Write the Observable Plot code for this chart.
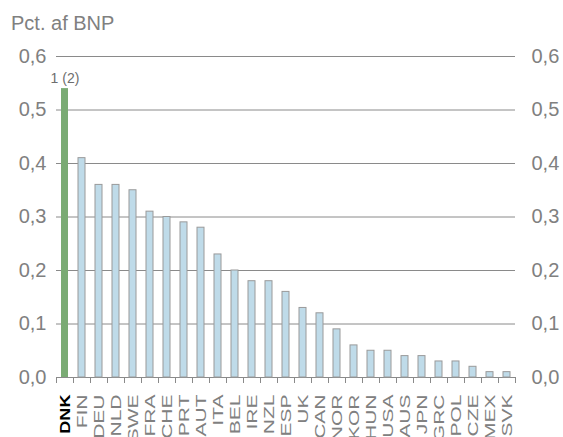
<!DOCTYPE html>
<html><head><meta charset="utf-8">
<script src="https://cdn.jsdelivr.net/npm/d3@7"></script>
<script src="https://cdn.jsdelivr.net/npm/@observablehq/plot@0.6"></script>
<style>
body{margin:0;background:#fff;font-family:"Liberation Sans",Arial,sans-serif}
#wrap{position:relative;width:563px;height:437px}
#title{position:absolute;left:11px;top:13px;font-size:20px;line-height:20px;color:#808080}
#chart{position:absolute;left:0;top:0}
</style>
</head><body>
<div id="wrap"><div id="chart"></div><div id="title">Pct. af BNP</div></div>
<script>
const countries = ["DNK","FIN","DEU","NLD","SWE","FRA","CHE","PRT","AUT","ITA","BEL","IRE","NZL","ESP","UK","CAN","NOR","KOR","HUN","USA","AUS","JPN","GRC","POL","CZE","MEX","SVK"];
const values = [0.54,0.41,0.36,0.36,0.35,0.31,0.30,0.29,0.28,0.23,0.20,0.18,0.18,0.16,0.13,0.12,0.09,0.06,0.05,0.05,0.04,0.04,0.03,0.03,0.02,0.01,0.01];
const highlight = "DNK";
const annotation = "1 (2)";
const yTicks = [0,0.1,0.2,0.3,0.4,0.5,0.6];

const data = countries.map((c,i)=>({country:c, value:values[i]}));
const W=563, H=437, mL=56, mR=48, mT=56, mB=60;
const step = (W-mL-mR)/countries.length;
const fmt = d => d.toFixed(1).replace(".", ",");
const font = "Liberation Sans, Arial, sans-serif";

const chart = Plot.plot({
  width:W, height:H, marginLeft:mL, marginRight:mR, marginTop:mT, marginBottom:mB,
  style:{fontFamily:font, background:"transparent", color:"#808080"},
  x:{domain:countries, paddingInner:0.57, paddingOuter:0.285, label:null},
  y:{domain:[0,0.6], label:null},
  marks:[
    Plot.ruleY(yTicks, {stroke:"#8a8a8a", strokeWidth:1}),
    Plot.barY(data.filter(d=>d.country!==highlight), {x:"country", y:"value", fill:"#bfdbe9", stroke:"#9a9a9a", strokeWidth:1}),
    Plot.barY(data.filter(d=>d.country===highlight), {x:"country", y:"value", fill:"#7aab74"}),
    Plot.axisY({anchor:"left", ticks:yTicks, tickFormat:fmt, tickSize:0, tickPadding:10, fontSize:20, label:null, fill:"#808080"}),
    Plot.axisY({anchor:"right", ticks:yTicks, tickFormat:fmt, tickSize:0, tickPadding:16, fontSize:20, label:null, fill:"#808080"}),
    Plot.axisX({tickSize:6, text:null, dx:-step/2, stroke:"#8a8a8a", label:null}),
    Plot.axisX({ticks:[countries[countries.length-1]], tickSize:6, text:null, dx:step/2, stroke:"#8a8a8a", label:null}),
    Plot.axisX({tickSize:0, tickRotate:-90, tickPadding:17, fontSize:14.5, label:null, fill:"#808080"}),
    Plot.text(data.filter(d=>d.country===highlight), {x:"country", y:"value", text:()=>annotation, dy:-10, fontSize:14, fill:"#6e6e6e"})
  ]
});
document.getElementById("chart").appendChild(chart);
d3.select(chart).selectAll('g[aria-label="x-axis tick label"] text').each(function(){
  const t = d3.select(this);
  const isHi = t.text() === highlight;
  t.attr("transform", (t.attr("transform")||"") + (isHi ? " scale(1.25,1)" : " scale(1.45,1)"));
  if (isHi) t.attr("fill","#000").attr("font-weight","bold");
});
</script>
</body></html>
